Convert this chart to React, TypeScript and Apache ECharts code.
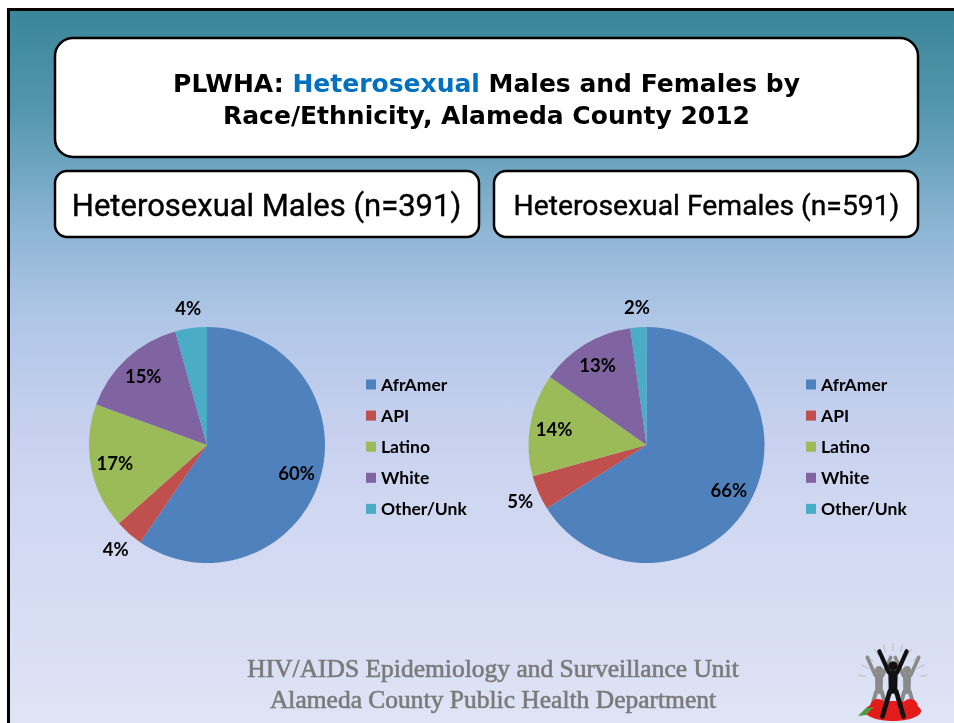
import React, { useEffect, useRef } from "react";
import * as echarts from "echarts";

// ---- data ----
const categories = ["AfrAmer", "API", "Latino", "White", "Other/Unk"];
const maleCounts = [233, 15, 67, 59, 17]; // n = 391
const femaleCounts = [390, 28, 83, 77, 13]; // n = 591
const sliceColors = ["#4F81BD", "#C0504D", "#9BBB59", "#8064A2", "#4BACC6"];
const titleLine1 = ["PLWHA: ", "Heterosexual", " Males and Females by"];
const titleLine2 = "Race/Ethnicity, Alameda County 2012";
const maleSubtitle = "Heterosexual Males (n=391)";
const femaleSubtitle = "Heterosexual Females (n=591)";
const footerLines = [
  "HIV/AIDS Epidemiology and Surveillance Unit",
  "Alameda County Public Health Department",
];

const R = 118;
const CY = 445;
const labelFont = { fontFamily: "Lato", fontWeight: "bold" as const, fontSize: 18.5, color: "#000" };

function pieSeries(counts: number[], cx: number) {
  const total = counts.reduce((a, b) => a + b, 0);
  const small = (v: number) => v / total < 0.08;
  const data = categories.map((name, i) => ({
    name,
    value: counts[i],
    itemStyle: { color: sliceColors[i] },
  }));
  const base = {
    type: "pie",
    center: [cx, CY],
    startAngle: 90,
    clockwise: true,
    silent: true,
    animation: false,
    labelLine: { show: false },
    emphasis: { disabled: true },
    percentPrecision: 0,
  };
  const clear = { color: "rgba(0,0,0,0)", borderWidth: 0 };
  return [
    { ...base, radius: [0, R], data, label: { show: false } },
    {
      ...base,
      radius: [R * 0.54, R],
      legendHoverLink: false,
      data: data.map((d) => ({ ...d, itemStyle: clear, label: { show: !small(d.value) } })),
      label: { position: "inside", formatter: "{d}%", ...labelFont },
    },
    {
      ...base,
      radius: [R, R * 1.29],
      legendHoverLink: false,
      data: data.map((d) => ({ ...d, itemStyle: clear, label: { show: small(d.value) } })),
      label: { position: "inside", formatter: "{d}%", ...labelFont },
    },
  ];
}

function legendAt(left: number) {
  return {
    orient: "vertical",
    left,
    top: 375.5,
    padding: 0,
    icon: "rect",
    itemWidth: 10,
    itemHeight: 10,
    itemGap: 13.1,
    selectedMode: false,
    data: categories,
    textStyle: { fontFamily: "Lato", fontWeight: "bold", fontSize: 17.5, lineHeight: 17.5, color: "#000" },
  };
}

function box(x: number, y: number, w: number, h: number, r: number) {
  return {
    type: "rect",
    shape: { x, y, width: w, height: h, r },
    style: { fill: "#fff", stroke: "#000", lineWidth: 2.5 },
  };
}

function logo() {
  const gray = "#8a8a8a";
  const rays: any[] = [];
  const cx = 893, cy = 682;
  for (let k = 0; k < 11; k++) {
    const a = (-170 + k * 16) * Math.PI / 180;
    rays.push({
      type: "line",
      shape: {
        x1: cx + Math.cos(a) * 27, y1: cy + Math.sin(a) * 31,
        x2: cx + Math.cos(a) * 35, y2: cy + Math.sin(a) * 39,
      },
      style: { stroke: "#c4c8cc", lineWidth: 1.5 },
    });
  }
  const figure = (x: number, y: number, color: string, s: number) => [
    { type: "circle", shape: { cx: x, cy: y, r: 4.5 * s }, style: { fill: color } },
    { type: "polyline", shape: { points: [[x - 13 * s, y - 14 * s], [x - 4 * s, y + 6 * s], [x + 4 * s, y + 6 * s], [x + 13 * s, y - 14 * s]] }, style: { stroke: color, lineWidth: 4 * s, fill: null, lineJoin: "round", lineCap: "round" } },
    { type: "polygon", shape: { points: [[x - 4.5 * s, y + 5 * s], [x + 4.5 * s, y + 5 * s], [x + 4 * s, y + 26 * s], [x - 4 * s, y + 26 * s]] }, style: { fill: color } },
    { type: "polyline", shape: { points: [[x - 10 * s, y + 48 * s], [x - 3 * s, y + 24 * s], [x + 3 * s, y + 24 * s], [x + 10 * s, y + 48 * s]] }, style: { stroke: color, lineWidth: 4.5 * s, fill: null, lineJoin: "round", lineCap: "round" } },
  ];
  return [
    ...rays,
    ...figure(879, 670, gray, 0.9),
    ...figure(907, 670, gray, 0.9),
    { type: "ellipse", shape: { cx: 893, cy: 711, rx: 28, ry: 10 }, style: { fill: "#e41b1b" } },
    { type: "circle", shape: { cx: 878, cy: 707, r: 8 }, style: { fill: "#e41b1b" } },
    { type: "circle", shape: { cx: 910, cy: 707, r: 8 }, style: { fill: "#e41b1b" } },
    { type: "polygon", shape: { points: [[858, 716], [866, 708], [874, 707], [866, 715]] }, style: { fill: "#4f9a3a" } },
    ...figure(893, 666, "#111", 1.05),
  ];
}

export default function App() {
  const ref = useRef<HTMLDivElement>(null);
  useEffect(() => {
    if (!ref.current) return;
    const chart = echarts.init(ref.current, null, { renderer: "svg" });
    const bg = new echarts.graphic.LinearGradient(0, 0, 0, 1, [
      { offset: 0, color: "#3A8698" },
      { offset: 0.14, color: "#5497AE" },
      { offset: 0.3, color: "#8DB5D4" },
      { offset: 0.42, color: "#AFC6E6" },
      { offset: 0.55, color: "#C4CFEE" },
      { offset: 0.68, color: "#D0D7F1" },
      { offset: 0.85, color: "#D8DEF3" },
      { offset: 1, color: "#E0E5F6" },
    ]);
    const tFont = "DejaVu Sans";
    const tSize = 25;
    chart.setOption({
      animation: false,
      graphic: [
        {
          type: "rect",
          z: -10,
          shape: { x: 8.5, y: 9.5, width: 960, height: 730 },
          style: { fill: bg, stroke: "#000", lineWidth: 3 },
        },
        box(55, 38, 863, 119, 18),
        box(55, 171, 424, 66, 12),
        box(494, 171, 424, 66, 12),
        {
          type: "text",
          x: 486.5,
          y: 83.5,
          style: {
            text: `{a|${titleLine1[0]}}{b|${titleLine1[1]}}{a|${titleLine1[2]}}`,
            align: "center",
            verticalAlign: "middle",
            rich: {
              a: { fontFamily: tFont, fontWeight: "bold", fontSize: tSize, fill: "#000", color: "#000" },
              b: { fontFamily: tFont, fontWeight: "bold", fontSize: tSize, fill: "#0070C0", color: "#0070C0" },
            },
          },
        },
        {
          type: "text",
          x: 486.5,
          y: 115.5,
          style: {
            text: titleLine2,
            align: "center",
            verticalAlign: "middle",
            fontFamily: tFont,
            fontWeight: "bold",
            fontSize: tSize,
            fill: "#000",
          },
        },
        {
          type: "text",
          x: 266.5,
          y: 205,
          style: { text: maleSubtitle, align: "center", verticalAlign: "middle", fontFamily: "Roboto", fontSize: 31, fill: "#000", stroke: "#000", lineWidth: 0.4 },
        },
        {
          type: "text",
          x: 706.5,
          y: 205,
          style: { text: femaleSubtitle, align: "center", verticalAlign: "middle", fontFamily: "Roboto", fontSize: 28.3, fill: "#000", stroke: "#000", lineWidth: 0.4 },
        },
        ...footerLines.map((t, i) => ({
          type: "text",
          x: 493,
          y: 668 + i * 31,
          style: {
            text: t,
            align: "center",
            verticalAlign: "middle",
            fontFamily: "Liberation Serif",
            fontSize: 25.5,
            fill: "#7a7a7a",
            stroke: "#7a7a7a",
            lineWidth: 0.6,
          },
        })),
        ...logo(),
      ],
      legend: [legendAt(366), legendAt(806)],
      series: [...pieSeries(maleCounts, 207), ...pieSeries(femaleCounts, 646.5)],
    });
    return () => chart.dispose();
  }, []);
  return <div ref={ref} style={{ position: "fixed", left: 0, top: 0, width: 954, height: 723 }} />;
}
